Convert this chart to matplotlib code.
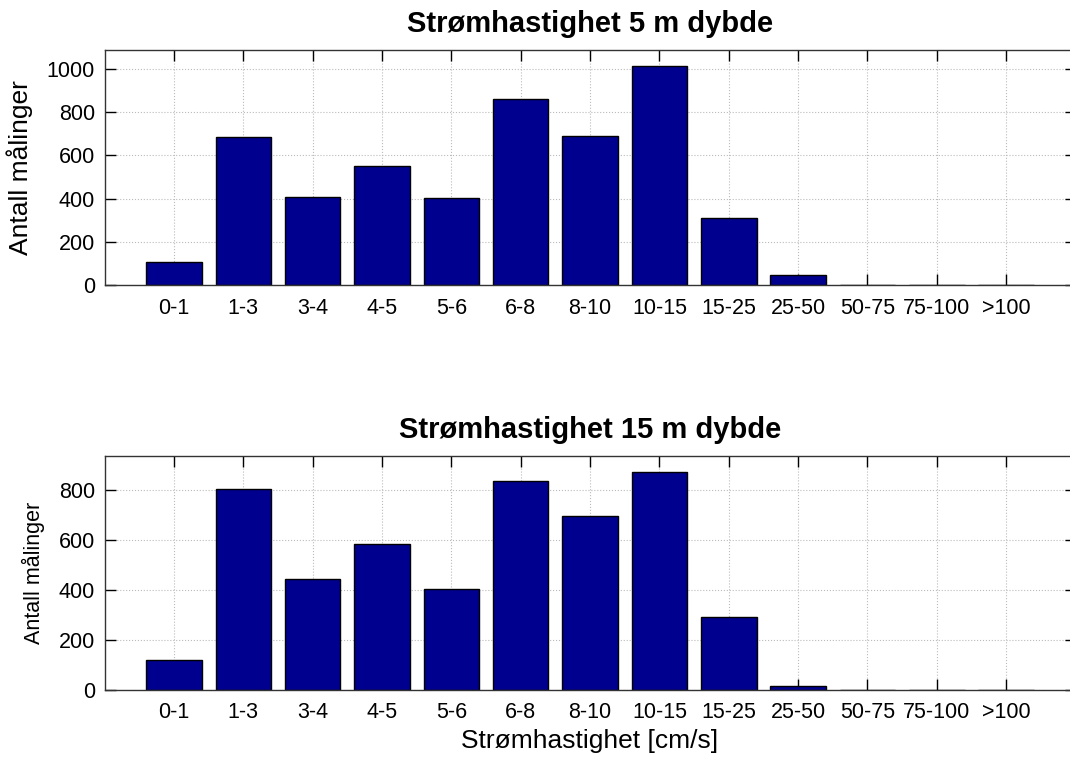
import numpy as np
import matplotlib
matplotlib.use('Agg')
import matplotlib.pyplot as plt

# Strømhastighet-klasser [cm/s]
klasser = ['0-1', '1-3', '3-4', '4-5', '5-6', '6-8', '8-10', '10-15',
           '15-25', '25-50', '50-75', '75-100', '>100']
# Antall målinger på 5 m og 15 m dybde
antall_5m = [105, 685, 409, 552, 404, 860, 690, 1015, 310, 46, 0, 0, 0]
antall_15m = [120, 805, 444, 584, 403, 836, 698, 872, 293, 16, 0, 0, 0]

plt.rcParams['font.family'] = ['Liberation Sans', 'DejaVu Sans']

fig = plt.figure(figsize=(10.7, 7.6), dpi=100)
ax1 = fig.add_axes([0.0977, 0.625, 0.9075, 0.309])
ax2 = fig.add_axes([0.0977, 0.0925, 0.9075, 0.308])

x = np.arange(1, len(klasser) + 1)


def tegn(ax, verdier, tittel, ylim, yticks, ylabsize, ylabx):
    ax.bar(x, verdier, width=0.8, color='#00008f', edgecolor='black',
           linewidth=1.0, zorder=3)
    ax.set_xlim(0, len(klasser) + 1)
    ax.set_ylim(0, ylim)
    ax.set_xticks(x)
    ax.set_xticklabels(klasser)
    ax.set_yticks(yticks)
    ax.grid(True, linestyle=':', color='#bbbbbb', linewidth=0.8, zorder=0)
    ax.tick_params(direction='in', length=8, width=1, labelsize=15.5,
                   top=True, right=True, pad=7)
    ax.tick_params(axis='x', pad=9)
    for s in ax.spines.values():
        s.set_linewidth(1.0)
        s.set_color('#333333')
        s.set_zorder(4)
    ax.set_title(tittel, fontsize=21, fontweight='bold', pad=13)
    ax.set_ylabel('Antall målinger', fontsize=ylabsize)
    ax.yaxis.set_label_coords(ylabx, 0.5)


tegn(ax1, antall_5m, 'Strømhastighet 5 m dybde', 1088,
     [0, 200, 400, 600, 800, 1000], 19, -0.074)
tegn(ax2, antall_15m, 'Strømhastighet 15 m dybde', 939,
     [0, 200, 400, 600, 800], 15.5, -0.061)
ax2.set_xlabel('Strømhastighet [cm/s]', fontsize=19, labelpad=4)

fig.savefig('out.png', dpi=100)
